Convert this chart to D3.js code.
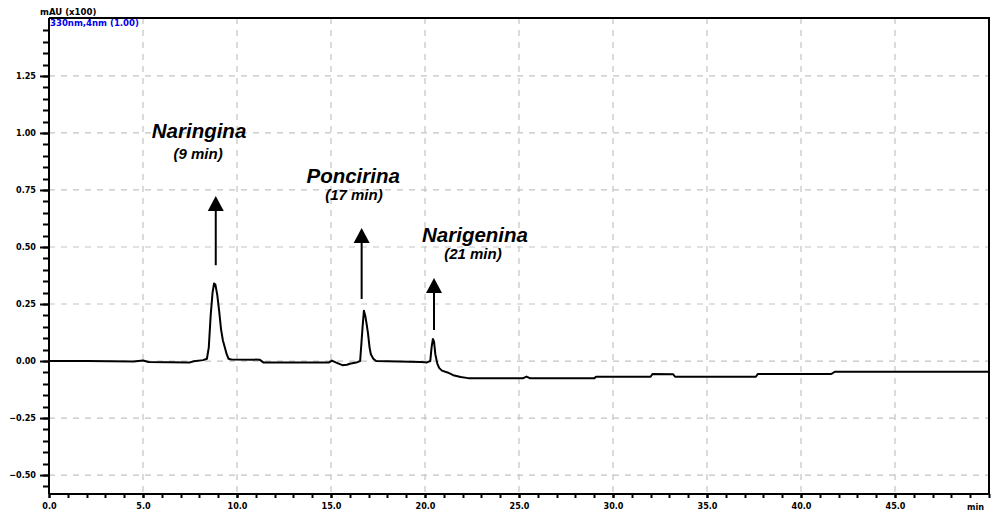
<!DOCTYPE html>
<html>
<head>
<meta charset="utf-8">
<script src="https://cdn.jsdelivr.net/npm/d3@7"></script>
<style>
  html, body { margin: 0; padding: 0; background: #fff; }
  svg { display: block; }
</style>
</head>
<body>
<svg id="chart" width="991" height="515"></svg>
<script>
// ---- Data ----
const times = [0.0, 2.0, 4.5, 5.0, 5.3, 7.5, 7.7, 8.2, 8.40, 8.50, 8.60, 8.70, 8.78, 8.85, 8.95, 9.05, 9.15, 9.25, 9.35, 9.45, 9.55, 9.7, 11.2, 11.4, 14.9, 15.05, 15.25, 15.6, 15.85, 16.0, 16.4, 16.55, 16.62, 16.68, 16.75, 16.82, 16.90, 16.97, 17.05, 17.12, 17.25, 17.4, 19.8, 20.1, 20.28, 20.35, 20.42, 20.48, 20.55, 20.65, 20.75, 20.9, 21.2, 21.5, 21.9, 22.3, 25.2, 25.4, 25.6, 29.0, 29.1, 32.0, 32.1, 33.2, 33.3, 37.6, 37.7, 41.6, 41.8, 50.0];
const absorbance = [0.0, 0.0, -0.002, 0.002, -0.004, -0.006, -0.001, 0.004, 0.01, 0.06, 0.20, 0.30, 0.34, 0.335, 0.29, 0.22, 0.14, 0.09, 0.06, 0.03, 0.01, 0.007, 0.006, -0.006, -0.006, 0.002, -0.006, -0.018, -0.016, -0.012, -0.005, 0.0, 0.08, 0.15, 0.22, 0.20, 0.16, 0.12, 0.06, 0.03, 0.01, 0.0, -0.004, -0.006, 0.0, 0.06, 0.097, 0.085, 0.03, -0.01, -0.03, -0.042, -0.05, -0.062, -0.07, -0.075, -0.076, -0.068, -0.076, -0.076, -0.069, -0.069, -0.057, -0.058, -0.069, -0.069, -0.057, -0.057, -0.047, -0.047];

const xTicks = [0, 5, 10, 15, 20, 25, 30, 35, 40, 45];
const yTicks = [-0.5, -0.25, 0.0, 0.25, 0.5, 0.75, 1.0, 1.25];

const compounds = ["Naringina", "Poncirina", "Narigenina"];
const retentionLabels = ["(9 min)", "(17 min)", "(21 min)"];
const nameTimes = [7.98, 16.18, 22.66];
const nameValues = [0.978, 0.782, 0.523];
const subTimes = [7.93, 16.22, 22.55];
const subValues = [0.886, 0.706, 0.447];
const arrowTimes = [8.87, 16.63, 20.48];
const arrowTail = [0.42, 0.272, 0.136];
const arrowTip = [0.724, 0.583, 0.364];

const yUnitLabel = "mAU (x100)";
const channelLabel = "330nm,4nm (1.00)";
const xUnitLabel = "min";

// ---- Layout ----
const svg = d3.select("#chart");
const L = 49, R = 989, T = 18, B = 494;
const x = d3.scaleLinear().domain([0, 50]).range([L, R]);
const y = d3.scaleLinear().domain([-0.583, 1.504]).range([B, T]);

const tickFont = "'DejaVu Sans Condensed', 'DejaVu Sans', sans-serif";

// grid
const grid = svg.append("g");
grid.selectAll("line.v").data(xTicks.filter(d => d > 0)).join("line")
  .attr("x1", d => x(d)).attr("x2", d => x(d)).attr("y1", T).attr("y2", B)
  .attr("stroke", "#c4c4c4").attr("stroke-width", 1.2).attr("stroke-dasharray", "6,6");
grid.selectAll("line.h").data(yTicks).join("line")
  .attr("x1", L).attr("x2", R).attr("y1", d => y(d)).attr("y2", d => y(d))
  .attr("stroke", "#c4c4c4").attr("stroke-width", 1.2).attr("stroke-dasharray", "6,6");

// frame
svg.append("line").attr("x1", L).attr("x2", R + 1).attr("y1", T).attr("y2", T).attr("stroke", "#000").attr("stroke-width", 2);
svg.append("line").attr("x1", R).attr("x2", R).attr("y1", T).attr("y2", B).attr("stroke", "#000").attr("stroke-width", 2);

// minor ticks (drawn explicitly from the scales)
const yMinor = d3.range(-11, 30).map(k => k * 0.05);
const xMinor = d3.range(0, 51);
svg.append("g").selectAll("line").data(yMinor).join("line")
  .attr("x1", L - 6).attr("x2", L).attr("y1", d => Math.round(y(d)) + 0.5).attr("y2", d => Math.round(y(d)) + 0.5)
  .attr("stroke", "#000").attr("stroke-width", 2);
svg.append("g").selectAll("line").data(xMinor).join("line")
  .attr("x1", d => Math.round(x(d)) + 0.5).attr("x2", d => Math.round(x(d)) + 0.5).attr("y1", B).attr("y2", B + 4)
  .attr("stroke", "#000").attr("stroke-width", 2);

// major axes
const yAxis = svg.append("g").attr("transform", `translate(${L},0)`)
  .call(d3.axisLeft(y).tickValues(yTicks).tickSize(9).tickPadding(4).tickFormat(d3.format(".2f")));
yAxis.select(".domain").attr("d", `M0,${T}V${B}`).attr("stroke-width", 2);
yAxis.selectAll("line").attr("stroke-width", 2);
yAxis.selectAll("text").attr("font-family", tickFont).attr("font-weight", "bold").attr("font-size", 9).attr("fill", "#000");

const xAxis = svg.append("g").attr("transform", `translate(0,${B})`)
  .call(d3.axisBottom(x).tickValues(xTicks).tickSize(4).tickPadding(5).tickFormat(d3.format(".1f")));
xAxis.select(".domain").attr("d", `M${L},0H${R + 1}`).attr("stroke-width", 2);
xAxis.selectAll("line").attr("stroke-width", 2);
xAxis.selectAll("text").attr("font-family", tickFont).attr("font-weight", "bold").attr("font-size", 9).attr("fill", "#000");

// unit labels
svg.append("text").attr("x", 40).attr("y", 15).text(yUnitLabel)
  .attr("font-family", tickFont).attr("font-weight", "bold").attr("font-size", 9.5);
svg.append("text").attr("x", 50).attr("y", 26).text(channelLabel)
  .attr("font-family", tickFont).attr("font-weight", "bold").attr("font-size", 9.5).attr("fill", "#0000ee");
svg.append("text").attr("x", 984).attr("y", 510).attr("text-anchor", "end").text(xUnitLabel)
  .attr("font-family", tickFont).attr("font-weight", "bold").attr("font-size", 9);

// signal
const series = times.map((t, i) => [t, absorbance[i]]);
svg.append("path").datum(series)
  .attr("fill", "none").attr("stroke", "#000").attr("stroke-width", 2).attr("stroke-linejoin", "round")
  .attr("d", d3.line().x(d => x(d[0])).y(d => y(d[1])));

// annotations
const annFont = "'Liberation Sans', Arial, sans-serif";
compounds.forEach((name, i) => {
  svg.append("text").attr("x", x(nameTimes[i])).attr("y", y(nameValues[i]))
    .attr("text-anchor", "middle").attr("font-family", annFont)
    .attr("font-weight", "bold").attr("font-style", "italic").attr("font-size", 20.5)
    .text(name);
  svg.append("text").attr("x", x(subTimes[i])).attr("y", y(subValues[i]))
    .attr("text-anchor", "middle").attr("font-family", annFont)
    .attr("font-weight", "bold").attr("font-style", "italic").attr("font-size", 15)
    .text(retentionLabels[i]);
  const ax = x(arrowTimes[i]), tipY = y(arrowTip[i]), tailY = y(arrowTail[i]);
  const headH = 15, headW = 8;
  svg.append("line").attr("x1", ax).attr("x2", ax).attr("y1", tailY).attr("y2", tipY + headH - 1)
    .attr("stroke", "#000").attr("stroke-width", 2);
  svg.append("path")
    .attr("d", `M${ax},${tipY}L${ax + headW},${tipY + headH}L${ax - headW},${tipY + headH}Z`)
    .attr("fill", "#000");
});
</script>
</body>
</html>
